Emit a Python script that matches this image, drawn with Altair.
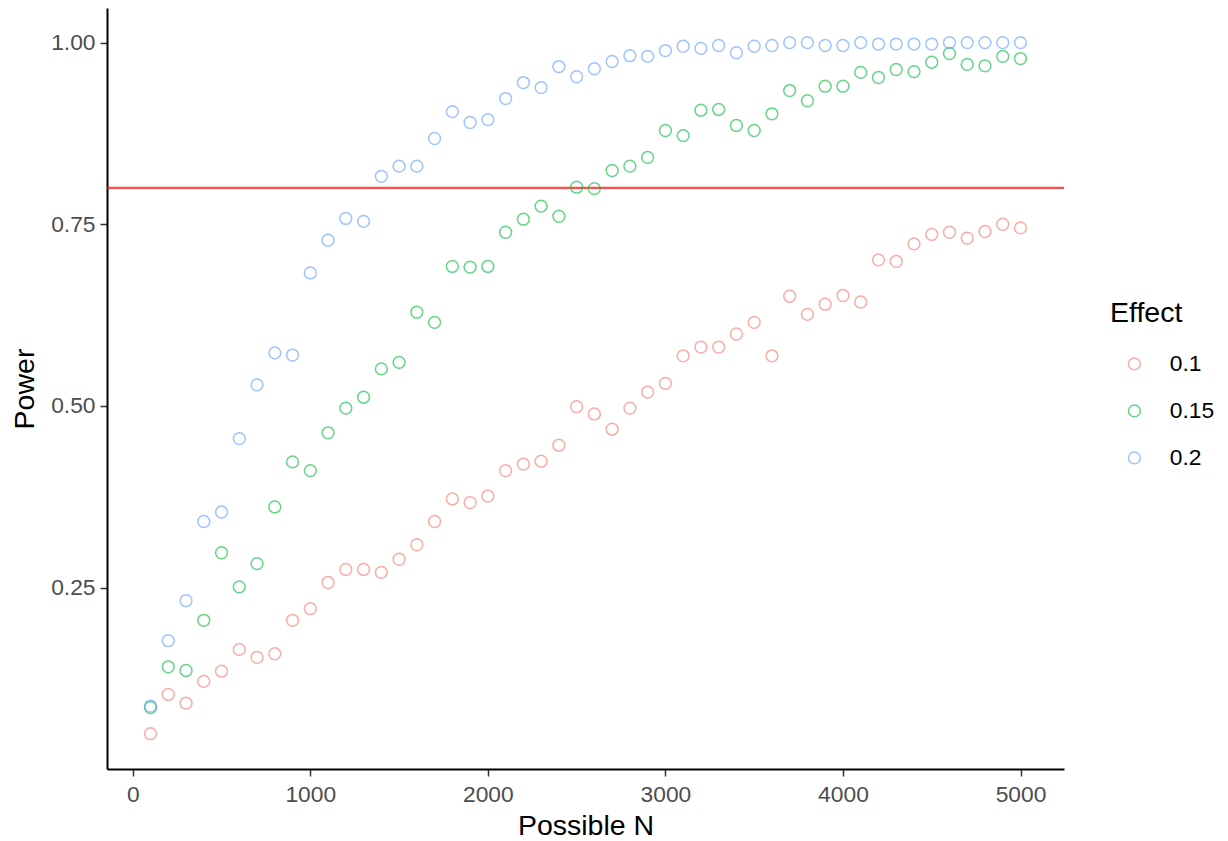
import altair as alt
import pandas as pd

possible_n = list(range(100, 5001, 100))

power_01 = [0.049, 0.103, 0.091, 0.121, 0.135, 0.165, 0.154, 0.159, 0.205, 0.221,
            0.257, 0.275, 0.275, 0.271, 0.289, 0.309, 0.341, 0.372, 0.367, 0.376,
            0.411, 0.420, 0.424, 0.446, 0.499, 0.489, 0.468, 0.497, 0.519, 0.531,
            0.569, 0.581, 0.581, 0.599, 0.615, 0.569, 0.651, 0.626, 0.640, 0.652,
            0.643, 0.701, 0.699, 0.723, 0.736, 0.739, 0.731, 0.740, 0.750, 0.745]

power_015 = [0.085, 0.141, 0.136, 0.205, 0.298, 0.251, 0.283, 0.361, 0.423, 0.411,
             0.463, 0.497, 0.512, 0.551, 0.560, 0.629, 0.615, 0.692, 0.691, 0.692,
             0.739, 0.757, 0.775, 0.761, 0.801, 0.799, 0.824, 0.830, 0.842, 0.879,
             0.872, 0.907, 0.908, 0.886, 0.879, 0.902, 0.934, 0.920, 0.940, 0.940,
             0.959, 0.952, 0.963, 0.960, 0.973, 0.985, 0.970, 0.968, 0.981, 0.978]

power_02 = [0.087, 0.177, 0.232, 0.341, 0.354, 0.455, 0.529, 0.573, 0.570, 0.683,
            0.728, 0.758, 0.754, 0.816, 0.830, 0.830, 0.868, 0.905, 0.890, 0.894,
            0.923, 0.945, 0.938, 0.967, 0.953, 0.964, 0.974, 0.982, 0.981, 0.989,
            0.995, 0.992, 0.996, 0.986, 0.995, 0.996, 1.000, 1.000, 0.996, 0.996,
            1.000, 0.998, 0.998, 0.998, 0.998, 1.000, 1.000, 1.000, 1.000, 1.000]

effects = ["0.1", "0.15", "0.2"]
colors = ["#F8766D", "#00BA38", "#619CFF"]
target_power = [0.8]

rows = []
for eff, vals in zip(effects, [power_01, power_015, power_02]):
    for n, p in zip(possible_n, vals):
        rows.append({"Possible N": n, "Power": p, "Effect": eff})
df = pd.DataFrame(rows)
line_df = pd.DataFrame({"target": target_power})

font = "Liberation Sans"
tick_fs = 22.8
title_fs = 28.5

x_scale = alt.Scale(domain=[-145, 5245], nice=False, zero=False)
y_scale = alt.Scale(domain=[0.0004, 1.0476], nice=False, zero=False)

hline = alt.Chart(line_df).mark_rule(color="#FF0000", opacity=0.7, strokeWidth=2.3).encode(
    y=alt.Y("target:Q", scale=y_scale)
)

points = alt.Chart(df).mark_point(
    shape="circle", filled=False, size=140, strokeWidth=1.5, opacity=0.6
).encode(
    x=alt.X("Possible N:Q", scale=x_scale,
            axis=alt.Axis(values=[0, 1000, 2000, 3000, 4000, 5000], format="d",
                          title="Possible N", titlePadding=6, labelPadding=7)),
    y=alt.Y("Power:Q", scale=y_scale,
            axis=alt.Axis(values=[0.25, 0.5, 0.75, 1.0], format=".2f",
                          title="Power", titlePadding=11, labelPadding=5)),
    color=alt.Color("Effect:N", scale=alt.Scale(domain=effects, range=colors),
                    sort=effects,
                    legend=alt.Legend(title="Effect", orient="none", legendX=1003, legendY=291,
                                      titleFontSize=title_fs, titleFont=font, titleFontWeight="normal",
                                      titleColor="#000000", titlePadding=25,
                                      labelFontSize=tick_fs, labelFont=font, labelColor="#000000",
                                      symbolSize=140, symbolStrokeWidth=1.5, symbolOpacity=0.6,
                                      symbolType="circle", symbolFillColor="transparent",
                                      symbolOffset=13, labelOffset=24, rowPadding=23)),
)

chart = alt.layer(hline, points).properties(
    width=957, height=761,
    autosize=alt.AutoSizeParams(type="none"),
    padding={"left": 99, "top": 0, "right": 155, "bottom": 74},
).configure_view(stroke=None).configure_axis(
    grid=False,
    domainColor="#000000", domainWidth=2,
    tickColor="#333333", tickWidth=1.5, tickSize=7,
    labelFont=font, labelFontSize=tick_fs, labelColor="#4D4D4D",
    titleFont=font, titleFontSize=title_fs, titleFontWeight="normal", titleColor="#000000",
)

chart.save("out.html", embed_options={"renderer": "svg", "actions": False})
